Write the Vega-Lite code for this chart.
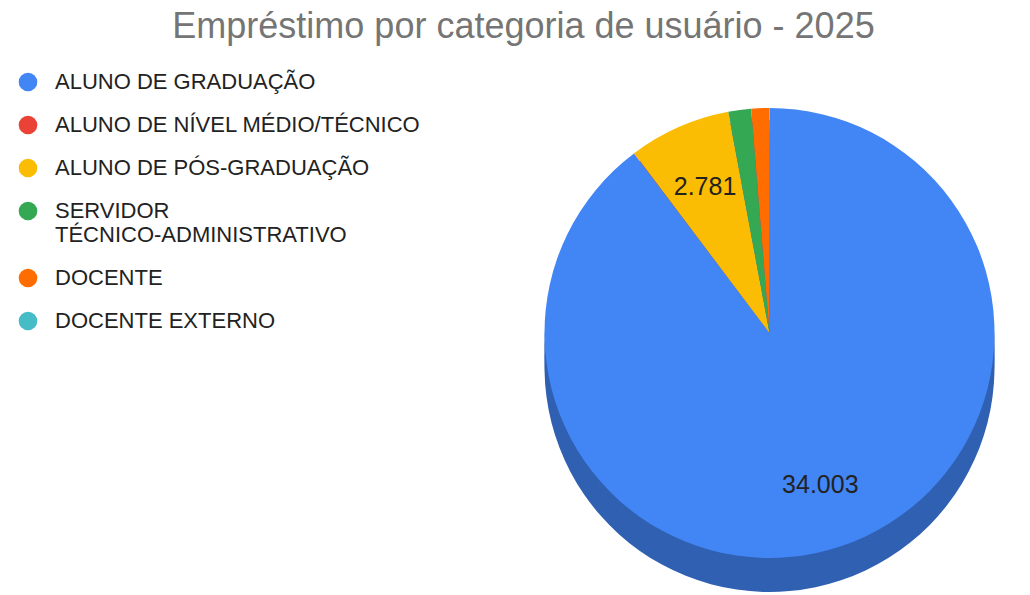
{
  "$schema": "https://vega.github.io/schema/vega-lite/v6.json",
  "width": 1030,
  "height": 595,
  "autosize": {"type": "fit", "contains": "padding"},
  "padding": {"left": 17, "top": 9, "right": 0, "bottom": 0},
  "background": "white",
  "title": {
    "text": "Empréstimo por categoria de usuário - 2025",
    "font": "Liberation Sans",
    "fontSize": 36,
    "fontWeight": "normal",
    "color": "#757575",
    "anchor": "middle",
    "frame": "bounds",
    "offset": 25
  },
  "data": {
    "values": [
      {"ord": 1, "cat": "ALUNO DE GRADUAÇÃO", "value": 34003, "lbl": "34.003"},
      {"ord": 2, "cat": "ALUNO DE NÍVEL MÉDIO/TÉCNICO", "value": 8, "lbl": ""},
      {"ord": 3, "cat": "ALUNO DE PÓS-GRADUAÇÃO", "value": 2781, "lbl": "2.781"},
      {"ord": 4, "cat": "SERVIDOR TÉCNICO-ADMINISTRATIVO", "value": 620, "lbl": ""},
      {"ord": 5, "cat": "DOCENTE", "value": 480, "lbl": ""},
      {"ord": 6, "cat": "DOCENTE EXTERNO", "value": 12, "lbl": ""}
    ]
  },
  "encoding": {
    "theta": {"field": "value", "type": "quantitative", "stack": true},
    "order": {"field": "ord", "type": "quantitative"}
  },
  "layer": [
    {
      "mark": {"type": "arc", "radius": 225, "yOffset": 34, "strokeWidth": 0, "fill": "#3060B2"},
      "encoding": {}
    },
    {
      "mark": {"type": "arc", "radius": 225, "yOffset": 23, "strokeWidth": 0, "fill": "#3060B2"},
      "encoding": {}
    },
    {
      "mark": {"type": "arc", "radius": 225, "yOffset": 12, "strokeWidth": 0, "fill": "#3060B2"},
      "encoding": {}
    },
    {
      "mark": {"type": "arc", "radius": 225, "strokeWidth": 0},
      "encoding": {
        "color": {
          "field": "cat", "type": "nominal",
          "scale": {
            "domain": ["ALUNO DE GRADUAÇÃO", "ALUNO DE NÍVEL MÉDIO/TÉCNICO", "ALUNO DE PÓS-GRADUAÇÃO", "SERVIDOR TÉCNICO-ADMINISTRATIVO", "DOCENTE", "DOCENTE EXTERNO"],
            "range": ["#4285F4", "#EA4335", "#FBBC04", "#34A853", "#FF6D01", "#46BDC6"]
          },
          "legend": {
            "title": null,
            "orient": "left",
            "offset": 88,
            "symbolType": "circle",
            "symbolSize": 346,
            "symbolStrokeWidth": 0,
            "labelFont": "Liberation Sans",
            "labelFontSize": 22,
            "labelColor": "#222222",
            "labelLimit": 500,
            "labelOffset": 16,
            "rowPadding": 21,
            "labelExpr": "datum.label == 'SERVIDOR TÉCNICO-ADMINISTRATIVO' ? ['SERVIDOR', 'TÉCNICO-ADMINISTRATIVO'] : datum.label"
          }
        }
      }
    },
    {
      "mark": {"type": "text", "radius": 160, "font": "Liberation Sans", "fontSize": 25, "color": "#222222"},
      "encoding": {
        "text": {"field": "lbl", "type": "nominal"}
      }
    }
  ],
  "config": {"view": {"stroke": null}}
}
